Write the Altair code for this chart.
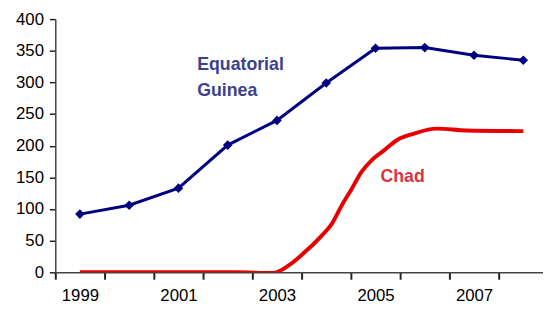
import altair as alt
import pandas as pd

# Equatorial Guinea (yearly, with diamond markers)
eg_years = [1999, 2000, 2001, 2002, 2003, 2004, 2005, 2006, 2007, 2008]
eg_values = [92, 106, 133, 201, 240, 299, 354, 355, 343, 335]

# Chad (smooth curve)
chad_years = [1999.0, 2002.18, 2002.92, 2003.24, 2003.51, 2003.91, 2004.11, 2004.31,
              2004.51, 2004.72, 2004.92, 2005.18, 2005.44, 2005.78, 2006.24, 2006.84, 2008.0]
chad_values = [0, 0, -1, 11, 28, 58, 76, 105, 131, 159, 177, 193, 209, 219, 227, 224, 223]

# Annotation labels
label_text = ["Equatorial", "Guinea", "Chad"]
label_x = [2001.38, 2001.38, 2005.1]
label_y = [320, 278, 143]
label_color = ["#3c418c", "#3c418c", "#e0323c"]

# Axis ticks / labels
x_tick_values = [1998.5 + i for i in range(11)]
y_tick_values = [0, 50, 100, 150, 200, 250, 300, 350, 400]

eg_df = pd.DataFrame({"year": eg_years, "value": eg_values})
chad_df = pd.DataFrame({"year": chad_years, "value": chad_values})
lab_df = pd.DataFrame({"text": label_text, "x": label_x, "y": label_y, "color": label_color})

xscale = alt.Scale(domain=[1998.5, 2008.4], nice=False, zero=False)
yscale = alt.Scale(domain=[0, 400], nice=False)

xaxis = alt.Axis(
    values=x_tick_values,
    labelExpr="(datum.value + 0.5) % 2 == 1 && datum.value < 2008 ? '' + (datum.value + 0.5) : ''",
    labelOffset=25,
    labelFlush=False,
    labelOverlap=False,
    labelFont="Liberation Sans",
    labelFontSize=17,
    labelColor="#000000",
    labelPadding=9,
    tickSize=7,
    tickWidth=2,
    tickColor="#222222",
    domainColor="#444444",
    domainWidth=1.5,
    grid=False,
    title=None,
)
yaxis = alt.Axis(
    values=y_tick_values,
    tickCount=9,
    labelOverlap=False,
    labelFlush=False,
    labelFont="Liberation Sans",
    labelFontSize=17,
    labelColor="#000000",
    labelPadding=6,
    tickSize=6,
    tickWidth=1.5,
    tickColor="#222222",
    domainColor="#444444",
    domainWidth=1.5,
    grid=False,
    title=None,
)

chad = alt.Chart(chad_df).mark_line(color="#e80000", strokeWidth=4, interpolate="monotone", clip=True).encode(
    x=alt.X("year:Q", scale=xscale, axis=xaxis),
    y=alt.Y("value:Q", scale=yscale, axis=yaxis),
)

eg = alt.Chart(eg_df).mark_line(
    color="#000080", strokeWidth=3,
    point=alt.OverlayMarkDef(shape="diamond", filled=True, color="#000080", size=95, opacity=1),
).encode(
    x=alt.X("year:Q", scale=xscale, axis=xaxis),
    y=alt.Y("value:Q", scale=yscale, axis=yaxis),
)

labels = alt.Chart(lab_df).mark_text(
    align="left", baseline="alphabetic", font="Liberation Sans", fontSize=18, fontWeight="bold"
).encode(
    x=alt.X("x:Q", scale=xscale, axis=xaxis),
    y=alt.Y("y:Q", scale=yscale, axis=yaxis),
    text="text:N",
    color=alt.Color("color:N", scale=None),
)

chart = alt.layer(chad, eg, labels).properties(
    width=495,
    height=257,
    autosize=alt.AutoSizeParams(type="none"),
    padding={"left": 48, "top": 9, "right": 0, "bottom": 38},
).configure_view(stroke=None)

chart.save("out.html", embed_options={"renderer": "svg", "actions": False})
